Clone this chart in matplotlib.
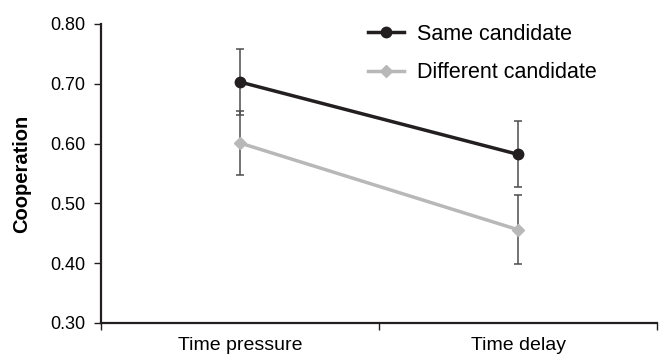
import matplotlib.pyplot as plt

plt.rcParams["font.family"] = ["Liberation Sans", "DejaVu Sans"]

conditions = ["Time pressure", "Time delay"]
same_candidate = [0.703, 0.582]
same_err = [0.055, 0.055]
diff_candidate = [0.601, 0.456]
diff_err = [0.053, 0.058]

fig = plt.figure(figsize=(6.63, 3.56), dpi=100)
ax = fig.add_axes([0.1523, 0.0927, 0.8387, 0.8399])

x = list(range(len(conditions)))
err_color = "#4d4d4d"

# error bars first, lines and markers on top
ax.errorbar(x, same_candidate, yerr=same_err, fmt="none", ecolor=err_color,
            elinewidth=1.1, capsize=3, capthick=1.1, zorder=2)
ax.errorbar(x, diff_candidate, yerr=diff_err, fmt="none", ecolor=err_color,
            elinewidth=1.1, capsize=3, capthick=1.1, zorder=2)

ax.plot(x, same_candidate, color="#231f20", lw=2.5, marker="o", markersize=7.5,
        label="Same candidate", zorder=4)
ax.plot(x, diff_candidate, color="#b8b8b8", lw=2.5, marker="D", markersize=6.5,
        label="Different candidate", zorder=3)

ax.set_xlim(-0.5, len(conditions) - 0.5)
ax.set_ylim(0.30, 0.80)
ax.set_yticks([0.30, 0.40, 0.50, 0.60, 0.70, 0.80])
ax.set_yticklabels(["0.30", "0.40", "0.50", "0.60", "0.70", "0.80"], fontsize=13)

# category boundaries get the tick marks, labels sit between them
ax.set_xticks([-0.5, 0.5, 1.5])
ax.set_xticklabels([])
ax.set_xticks(x, minor=True)
ax.set_xticklabels(conditions, minor=True, fontsize=14)
ax.tick_params(axis="x", which="minor", length=0, pad=10)
ax.tick_params(axis="x", which="major", length=5, width=1, color="#231f20")
ax.tick_params(axis="y", length=5, width=1, color="#231f20", pad=6)

for side in ["top", "right"]:
    ax.spines[side].set_visible(False)
for side in ["left", "bottom"]:
    ax.spines[side].set_linewidth(1.6)
    ax.spines[side].set_color("#231f20")

ax.set_ylabel("Cooperation", fontsize=14.5, fontweight="bold", labelpad=14)

ax.legend(loc="upper left", bbox_to_anchor=(0.445, 1.065), frameon=False,
          fontsize=15.5, handlelength=1.7, handletextpad=0.6, labelspacing=0.8,
          numpoints=1)

fig.savefig("out.png", dpi=100)
